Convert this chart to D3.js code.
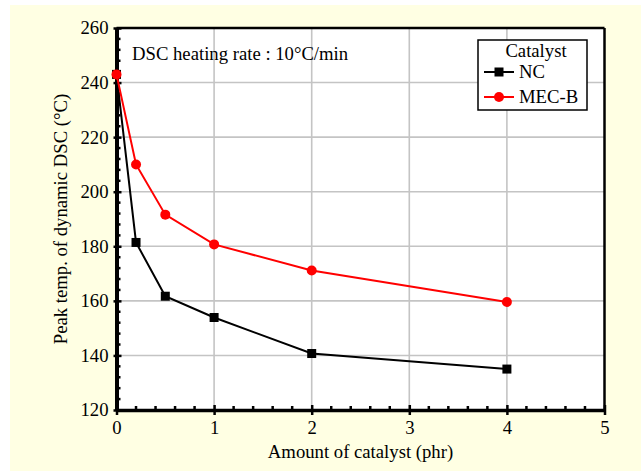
<!DOCTYPE html>
<html>
<head>
<meta charset="utf-8">
<script src="https://cdn.jsdelivr.net/npm/d3@7"></script>
<style>
body{margin:0;padding:0;background:#fff;}
svg{display:block;}
svg text{font-family:"Liberation Serif","Times New Roman","DejaVu Serif",serif !important;fill:#000;}
</style>
</head>
<body>
<div id="chart"></div>
<script>
const xValues = [0, 0.2, 0.5, 1, 2, 4];
const ncValues = [243, 181.4, 161.7, 153.9, 140.7, 135.0];
const mecbValues = [243, 210, 191.6, 180.7, 171.1, 159.6];
const xTicks = [0, 1, 2, 3, 4, 5];
const yTicks = [120, 140, 160, 180, 200, 220, 240, 260];
const seriesNames = ["NC", "MEC-B"];

const FS = 18.7;
const W = 641, H = 472;
const svg = d3.select("#chart").append("svg").attr("width", W).attr("height", H);
svg.append("rect").attr("x", 10).attr("y", 5).attr("width", W - 10).attr("height", 466).attr("fill", "#ffffe3");

const L = 116.5, R = 604.5, T = 28, B = 410;
const x = d3.scaleLinear().domain([0, 5]).range([L, R]);
const y = d3.scaleLinear().domain([120, 260]).range([B, T]);

svg.append("rect").attr("x", L).attr("y", T).attr("width", R - L).attr("height", B - T).attr("fill", "#fff");

// grid
const g = svg.append("g");
g.selectAll(".gx").data(xTicks.filter(d => d > 0 && d < 5)).enter().append("line")
  .attr("x1", d => x(d)).attr("x2", d => x(d)).attr("y1", T).attr("y2", B)
  .attr("stroke", "#c4c4c4").attr("stroke-width", 1.6);
g.selectAll(".gy").data(yTicks.filter(d => d > 120 && d < 260)).enter().append("line")
  .attr("y1", d => y(d)).attr("y2", d => y(d)).attr("x1", L).attr("x2", R)
  .attr("stroke", "#c4c4c4").attr("stroke-width", 1.6);

// minor ticks
const xMinor = d3.range(0, 5.001, 0.2).filter(v => Math.abs(v - Math.round(v)) > 1e-6);
const yMinor = d3.range(120, 260.001, 4).filter(v => v % 20 !== 0);
svg.selectAll(".mx").data(xMinor).enter().append("line")
  .attr("x1", d => x(d)).attr("x2", d => x(d)).attr("y1", B).attr("y2", B - 4)
  .attr("stroke", "#000").attr("stroke-width", 2.5);
svg.selectAll(".my").data(yMinor).enter().append("line")
  .attr("y1", d => y(d)).attr("y2", d => y(d)).attr("x1", L).attr("x2", L + 4)
  .attr("stroke", "#000").attr("stroke-width", 2.5);

// frame
svg.append("line").attr("x1", L).attr("x2", R).attr("y1", T).attr("y2", T).attr("stroke", "#000").attr("stroke-width", 2.5);
svg.append("line").attr("x1", R).attr("x2", R).attr("y1", T).attr("y2", B).attr("stroke", "#000").attr("stroke-width", 2.5);

// axes
const xAxis = svg.append("g").attr("transform", `translate(0,${B})`)
  .call(d3.axisBottom(x).tickValues(xTicks).tickFormat(d3.format("d")).tickSizeInner(5).tickSizeOuter(0).tickPadding(6));
xAxis.attr("font-family", null).attr("font-size", null);
xAxis.select(".domain").attr("stroke-width", 3.5);
xAxis.selectAll(".tick line").attr("y1", -5).attr("stroke-width", 2.5);
xAxis.selectAll("text").style("font-size", FS + "px");

const yAxis = svg.append("g").attr("transform", `translate(${L},0)`)
  .call(d3.axisLeft(y).tickValues(yTicks).tickFormat(d3.format("d")).tickSizeInner(3).tickSizeOuter(0).tickPadding(5));
yAxis.attr("font-family", null).attr("font-size", null);
yAxis.select(".domain").attr("stroke-width", 4);
yAxis.selectAll(".tick line").attr("x1", 5).attr("stroke-width", 2.5);
yAxis.selectAll("text").style("font-size", FS + "px");

// titles
svg.append("text").attr("x", (L + R) / 2).attr("y", 458).attr("text-anchor", "middle").style("font-size", FS + "px")
  .text("Amount of catalyst (phr)");
svg.append("text").attr("transform", `translate(67,${(T + B) / 2}) rotate(-90)`).attr("text-anchor", "middle").style("font-size", FS + "px")
  .text("Peak temp. of dynamic DSC (°C)");
svg.append("text").attr("x", 132).attr("y", 60).style("font-size", FS + "px").text("DSC heating rate : 10°C/min");

// series
const line = d3.line().x(d => x(d[0])).y(d => y(d[1]));
const nc = xValues.map((v, i) => [v, ncValues[i]]);
const mb = xValues.map((v, i) => [v, mecbValues[i]]);

svg.append("path").datum(nc).attr("d", line).attr("fill", "none").attr("stroke", "#000").attr("stroke-width", 2);
svg.append("path").datum(mb).attr("d", line).attr("fill", "none").attr("stroke", "#ff0000").attr("stroke-width", 2);

svg.selectAll(".sq").data(nc).enter().append("rect")
  .attr("x", d => x(d[0]) - 4.5).attr("y", d => y(d[1]) - 4.5).attr("width", 9).attr("height", 9).attr("fill", "#000");
svg.selectAll(".ci").data(mb).enter().append("circle")
  .attr("cx", d => x(d[0])).attr("cy", d => y(d[1])).attr("r", 5).attr("fill", "#ff0000");

// legend
const lg = svg.append("g");
lg.append("rect").attr("x", 478).attr("y", 40).attr("width", 109).attr("height", 70).attr("fill", "#fff").attr("stroke", "#000").attr("stroke-width", 1.5);
lg.append("text").attr("x", 536).attr("y", 57).attr("text-anchor", "middle").style("font-size", FS + "px").text("Catalyst");
lg.append("line").attr("x1", 484).attr("x2", 514).attr("y1", 72).attr("y2", 72).attr("stroke", "#000").attr("stroke-width", 2);
lg.append("rect").attr("x", 494.5).attr("y", 67.5).attr("width", 9).attr("height", 9).attr("fill", "#000");
lg.append("text").attr("x", 519).attr("y", 77.5).style("font-size", FS + "px").text(seriesNames[0]);
lg.append("line").attr("x1", 484).attr("x2", 514).attr("y1", 97).attr("y2", 97).attr("stroke", "#ff0000").attr("stroke-width", 2);
lg.append("circle").attr("cx", 499).attr("cy", 97).attr("r", 5).attr("fill", "#ff0000");
lg.append("text").attr("x", 519).attr("y", 102.5).style("font-size", FS + "px").text(seriesNames[1]);
</script>
</body>
</html>
